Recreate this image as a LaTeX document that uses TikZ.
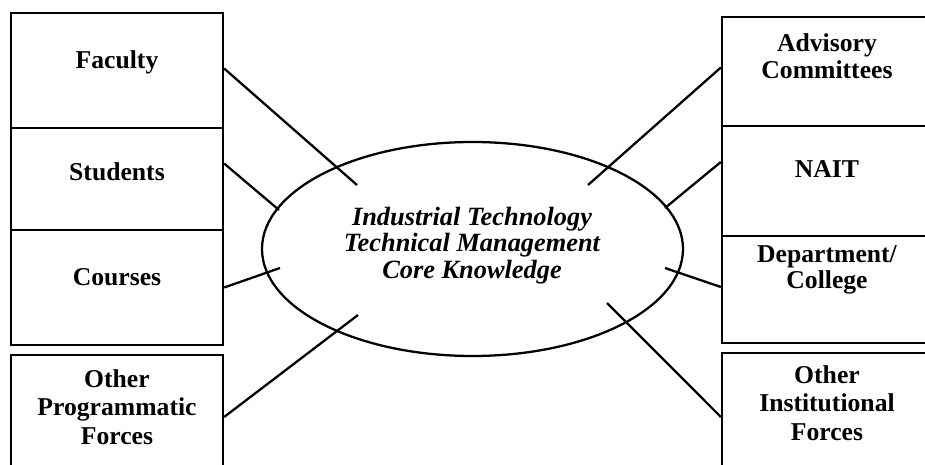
\documentclass[tikz,border=0pt]{standalone}
\usepackage{fontspec}
\setmainfont{Liberation Serif}
\usetikzlibrary{shapes.geometric}

\begin{document}
\begin{tikzpicture}[line width=1.3pt,font=\fontsize{14.6}{15.2}\selectfont\bfseries]
\tikzstyle{box}=[draw,minimum width=4.24cm,inner sep=0pt]
\tikzstyle{lbl}=[align=center,inner sep=0pt]
\tikzstyle{lbl3}=[lbl,font=\fontsize{14.6}{16.2}\selectfont\bfseries]
\useasboundingbox (0,0) rectangle (18.5,-9.3);
\clip (0,0) rectangle (18.5,-9.3);
% programmatic forces (left)
\node[box,minimum height=2.30cm] (fac) at (2.34,-1.41) {};
\node[box,minimum height=2.04cm] (stu) at (2.34,-3.58) {};
\node[box,minimum height=2.30cm] (cou) at (2.34,-5.75) {};
\node[box,minimum height=2.48cm] (oth) at (2.34,-8.34) {};
\node[lbl] (facT) at (2.34,-1.24) {Faculty};
\node[lbl] (stuT) at (2.34,-3.44) {Students};
\node[lbl] (couT) at (2.34,-5.54) {Courses};
\node[lbl3] (othT) at (2.34,-8.14) {Other\\Programmatic\\Forces};
% institutional forces (right)
\node[box,minimum height=2.18cm] (adv) at (16.56,-1.43) {};
\node[box,minimum height=2.20cm] (nait) at (16.56,-3.62) {};
\node[box,minimum height=2.14cm] (dep) at (16.56,-5.79) {};
\node[box,minimum height=2.56cm] (ins) at (16.56,-8.34) {};
\node[lbl] (advT) at (16.54,-1.13) {Advisory\\Committees};
\node[lbl] (naitT) at (16.54,-3.38) {NAIT};
\node[lbl] (depT) at (16.54,-5.40) {Department/\\College};
\node[lbl3] (insT) at (16.54,-8.06) {Other\\Institutional\\Forces};
% core knowledge
\node[draw,ellipse,minimum width=8.42cm,minimum height=4.28cm] (core) at (9.45,-4.98) {};
\node[lbl,font=\fontsize{15}{15}\selectfont\bfseries\itshape] (coreT) at (9.44,-4.91) {Industrial Technology\\Technical Management\\Core Knowledge};
% spokes end inside the ellipse
\coordinate (p1) at (7.14,-3.70); \coordinate (p2) at (5.58,-4.20);
\coordinate (p3) at (5.60,-5.36); \coordinate (p4) at (7.16,-6.30);
\coordinate (q1) at (11.76,-3.70); \coordinate (q2) at (13.30,-4.16);
\coordinate (q3) at (13.30,-5.36); \coordinate (q4) at (12.14,-6.06);
\draw ([yshift=.04cm]fac.east) -- (p1); \draw ([yshift=.31cm]stu.east) -- (p2);
\draw (cou.east) -- (p3); \draw (oth.east) -- (p4);
\draw ([yshift=.08cm]adv.west) -- (q1); \draw ([yshift=.38cm]nait.west) -- (q2);
\draw ([yshift=.05cm]dep.west) -- (q3); \draw (ins.west) -- (q4);
\end{tikzpicture}
\end{document}
